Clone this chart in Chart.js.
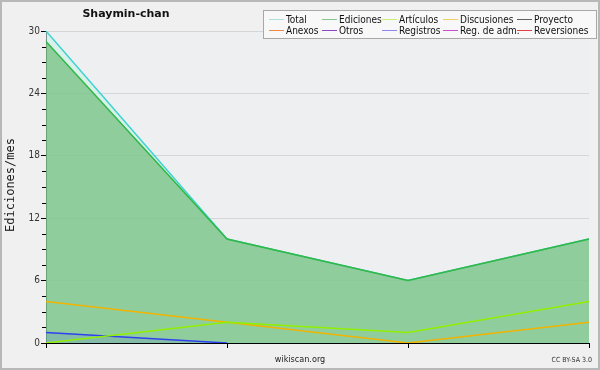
<!DOCTYPE html>
<html>
<head>
<meta charset="utf-8">
<script src="https://cdn.jsdelivr.net/npm/chart.js@4"></script>
<style>
  html, body { margin: 0; padding: 0; }
  #wrap {
    position: relative; width: 600px; height: 370px; box-sizing: border-box;
    background: #f0f0f0; border: 2px solid #b8b8b8; overflow: hidden;
    font-family: "DejaVu Sans", sans-serif;
  }
  #chart { position: absolute; left: -2px; top: -2px; }
  #title {
    position: absolute; left: 64px; top: 5px; width: 120px; text-align: center;
    font: bold 11px "DejaVu Sans", sans-serif; color: #111;
  }
  #ylabel {
    position: absolute; left: -47px; top: 176px; width: 110px; text-align: center;
    transform: rotate(-90deg); font: normal 12px "DejaVu Sans Mono", monospace; color: #222;
  }
  #legend {
    position: absolute; left: 261px; top: 8px; width: 334px; height: 29px;
    background: #f8f8f8; border: 1px solid #a8a8a8; box-sizing: border-box;
  }
  .lg { position: absolute; font: 10px "DejaVu Sans Condensed", sans-serif; color: #111; white-space: nowrap; line-height: 11px; }
  .lg i { display: inline-block; width: 15px; height: 0; border-top: 1px solid; vertical-align: middle; margin-right: 2px; position: relative; top: -1px; }
  #site { position: absolute; left: 250px; top: 352px; width: 96px; text-align: center; font: 9px "DejaVu Sans Condensed", sans-serif; color: #222; }
  #lic { position: absolute; left: 536px; top: 354px; width: 54px; text-align: right; font: 7px "DejaVu Sans Condensed", sans-serif; color: #333; }
</style>
</head>
<body>
<div id="wrap">
  <canvas id="chart" width="600" height="370"></canvas>
  <div id="title">Shaymin-chan</div>
  <div id="ylabel">Ediciones/mes</div>
  <div id="legend"></div>
  <div id="site">wikiscan.org</div>
  <div id="lic">CC BY-SA 3.0</div>
</div>
<script>
// Months (no x labels shown in the original)
const months = ['', '', '', ''];

// Series values (edits per month)
const total = [30, 10, 6, 10];
const ediciones = [29, 10, 6, 10];
const articulos = [0, 2, 1, 4];
const discusiones = [4, 2, 0, 2];
const registros = [1, 0, null, null];

// Y axis
const yMax = 30;
const yStep = 6;
const yMinorStep = 1.5;

// Legend entries (two rows of five)
const legendNames = ['Total', 'Ediciones', 'Artículos', 'Discusiones', 'Proyecto',
  'Anexos', 'Otros', 'Registros', 'Reg. de adm.', 'Reversiones'];
const legendColors = ['#a8e0e0', '#80c890', '#c8f070', '#f0d060', '#606060',
  '#f08848', '#8848c8', '#8888f0', '#c850d0', '#e04040'];
const legendCols = [5, 58, 118, 179, 253];

/**
 * Build legend box
 */
function renderLegend() {
  const box = document.getElementById('legend');
  legendNames.forEach((name, i) => {
    const el = document.createElement('div');
    el.className = 'lg';
    el.style.left = legendCols[i % 5] + 'px';
    el.style.top = (i < 5 ? 3 : 14) + 'px';
    el.innerHTML = `<i style="border-color:${legendColors[i]}"></i>${name}`;
    box.appendChild(el);
  });
}

// Plot background + minor ticks on y axis
const plotBg = {
  id: 'plotBg',
  beforeDraw(chart) {
    const { ctx, chartArea: a } = chart;
    ctx.save();
    ctx.fillStyle = '#edeff1';
    ctx.fillRect(a.left, a.top, a.right - a.left, a.bottom - a.top);
    ctx.restore();
  },
  afterDraw(chart) {
    const { ctx, chartArea: a } = chart;
    const y = chart.scales.y;
    ctx.save();
    ctx.strokeStyle = '#000';
    ctx.lineWidth = 1;
    ctx.beginPath();
    for (let v = 0; v <= yMax; v += yMinorStep) {
      if (v % yStep === 0) continue;
      const py = Math.round(y.getPixelForValue(v)) + 0.5;
      ctx.moveTo(a.left - 4, py);
      ctx.lineTo(a.left, py);
    }
    ctx.stroke();
    ctx.restore();
  }
};

renderLegend();

new Chart(document.getElementById('chart').getContext('2d'), {
  type: 'line',
  data: {
    labels: months,
    datasets: [
      {
        label: 'Total', data: total, order: 10,
        borderColor: '#40d4d0', backgroundColor: 'rgba(205,240,232,0.6)',
        fill: 'origin', borderWidth: 1.5, pointRadius: 0, tension: 0
      },
      {
        label: 'Ediciones', data: ediciones, order: 9,
        borderColor: '#30b848', backgroundColor: 'rgba(90,180,100,0.58)',
        fill: 'origin', borderWidth: 1.5, pointRadius: 0, tension: 0
      },
      {
        label: 'Registros', data: registros, order: 3,
        borderColor: '#3040f0', backgroundColor: 'rgba(90,110,220,0.18)',
        fill: 'origin', borderWidth: 1.5, pointRadius: 0, tension: 0
      },
      {
        label: 'Discusiones', data: discusiones, order: 2,
        borderColor: '#f0b400', fill: false, borderWidth: 1.5, pointRadius: 0, tension: 0
      },
      {
        label: 'Artículos', data: articulos, order: 1,
        borderColor: '#90f000', fill: false, borderWidth: 1.5, pointRadius: 0, tension: 0
      }
    ]
  },
  options: {
    responsive: false,
    animation: false,
    layout: { padding: { left: 0, top: 31, right: 11, bottom: 17 } },
    plugins: { legend: { display: false }, tooltip: { enabled: false }, title: { display: false } },
    scales: {
      x: {
        offset: false,
        afterFit(scale) { scale.height = 10; },
        border: { color: '#000', width: 1 },
        grid: { drawOnChartArea: false, drawTicks: true, tickLength: 5, tickColor: '#000' },
        ticks: { display: true, font: { size: 1 } }
      },
      y: {
        min: 0, max: yMax,
        afterFit(scale) { scale.width = 46; },
        border: { color: '#000', width: 1 },
        grid: { color: 'rgba(0,0,0,0.1)', tickColor: '#000', tickLength: 5 },
        ticks: {
          stepSize: yStep, padding: 1, color: '#333',
          font: { family: 'DejaVu Sans Condensed', size: 10 }
        }
      }
    }
  },
  plugins: [plotBg]
});
</script>
</body>
</html>
